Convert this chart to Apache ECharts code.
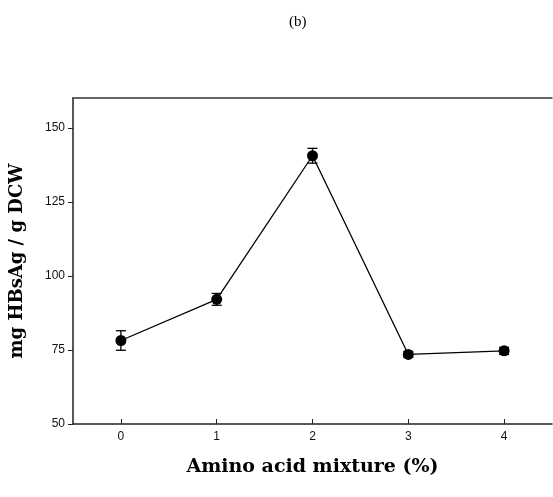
<!DOCTYPE html>
<html>
<head>
<meta charset="utf-8">
<script src="https://cdn.jsdelivr.net/npm/echarts@6/dist/echarts.min.js"></script>
<style>html,body{margin:0;padding:0;background:#fff}#c{width:553px;height:497px}</style>
</head>
<body>
<div id="c"></div>
<script>
// Amino acid mixture concentration (%) vs HBsAg yield
const concentrations = [0, 1, 2, 3, 4];
const yieldMean = [78.2, 92.1, 140.6, 73.5, 74.7];
const yieldErr = [3.3, 2.0, 2.5, 1.0, 1.2];
const xTicks = [0, 1, 2, 3, 4];
const yTicks = [50, 75, 100, 125, 150];

const points = concentrations.map((x, i) => [x, yieldMean[i]]);
const bars = concentrations.map((x, i) => [x, yieldMean[i] - yieldErr[i], yieldMean[i] + yieldErr[i]]);

const chart = echarts.init(document.getElementById('c'), null, {renderer: 'canvas'});
const tickFont = {fontFamily: 'Liberation Sans, Arial, sans-serif', fontSize: 12, color: '#111'};
const nameFont = 'DejaVu Serif, Liberation Serif, serif';
chart.setOption({
  animation: false,
  title: {
    text: '(b)', left: 284, top: 10,
    textStyle: {fontFamily: 'Liberation Serif, Times New Roman, serif', fontWeight: 'normal', fontSize: 15, color: '#000'}
  },
  grid: {left: 73, right: 1, top: 98, bottom: 73},
  xAxis: [{
    type: 'value', min: -0.5, max: 4.5,
    axisLine: {onZero: false, lineStyle: {color: '#222', width: 1.5}},
    axisTick: {inside: true, length: 5, lineStyle: {color: '#222'}, customValues: xTicks},
    axisLabel: Object.assign({margin: 7, customValues: xTicks}, tickFont),
    splitLine: {show: false},
    name: 'Amino acid mixture (%)', nameLocation: 'middle', nameGap: 34,
    nameTextStyle: {fontFamily: nameFont, fontWeight: 'bold', fontSize: 19, color: '#000'}
  }, {
    type: 'value', position: 'top', min: -0.5, max: 4.5,
    axisLine: {onZero: false, lineStyle: {color: '#333', width: 1.5}},
    axisTick: {show: false}, axisLabel: {show: false}, splitLine: {show: false}
  }],
  yAxis: {
    type: 'value', min: 50, max: 160.1,
    axisLine: {show: true, onZero: false, lineStyle: {color: '#222', width: 1.5}},
    axisTick: {show: true, length: 5, lineStyle: {color: '#222'}, customValues: yTicks},
    axisLabel: Object.assign({margin: 8, customValues: yTicks}, tickFont),
    splitLine: {show: false},
    name: 'mg HBsAg / g DCW', nameLocation: 'middle', nameGap: 47,
    nameTextStyle: {fontFamily: nameFont, fontWeight: 'bold', fontSize: 18, color: '#000'}
  },
  series: [{
    type: 'custom',
    data: bars,
    z: 3,
    renderItem: function (params, api) {
      const x = api.value(0);
      const lo = api.coord([x, api.value(1)]);
      const hi = api.coord([x, api.value(2)]);
      const w = 5;
      const style = {stroke: '#000', lineWidth: 1.3};
      return {type: 'group', children: [
        {type: 'line', shape: {x1: lo[0], y1: lo[1], x2: hi[0], y2: hi[1]}, style: style},
        {type: 'line', shape: {x1: lo[0] - w, y1: lo[1], x2: lo[0] + w, y2: lo[1]}, style: style},
        {type: 'line', shape: {x1: hi[0] - w, y1: hi[1], x2: hi[0] + w, y2: hi[1]}, style: style}
      ]};
    }
  }, {
    type: 'line',
    data: points,
    z: 4,
    symbol: 'circle', symbolSize: 11,
    lineStyle: {color: '#000', width: 1.3},
    itemStyle: {color: '#000'}
  }]
});
</script>
</body>
</html>
